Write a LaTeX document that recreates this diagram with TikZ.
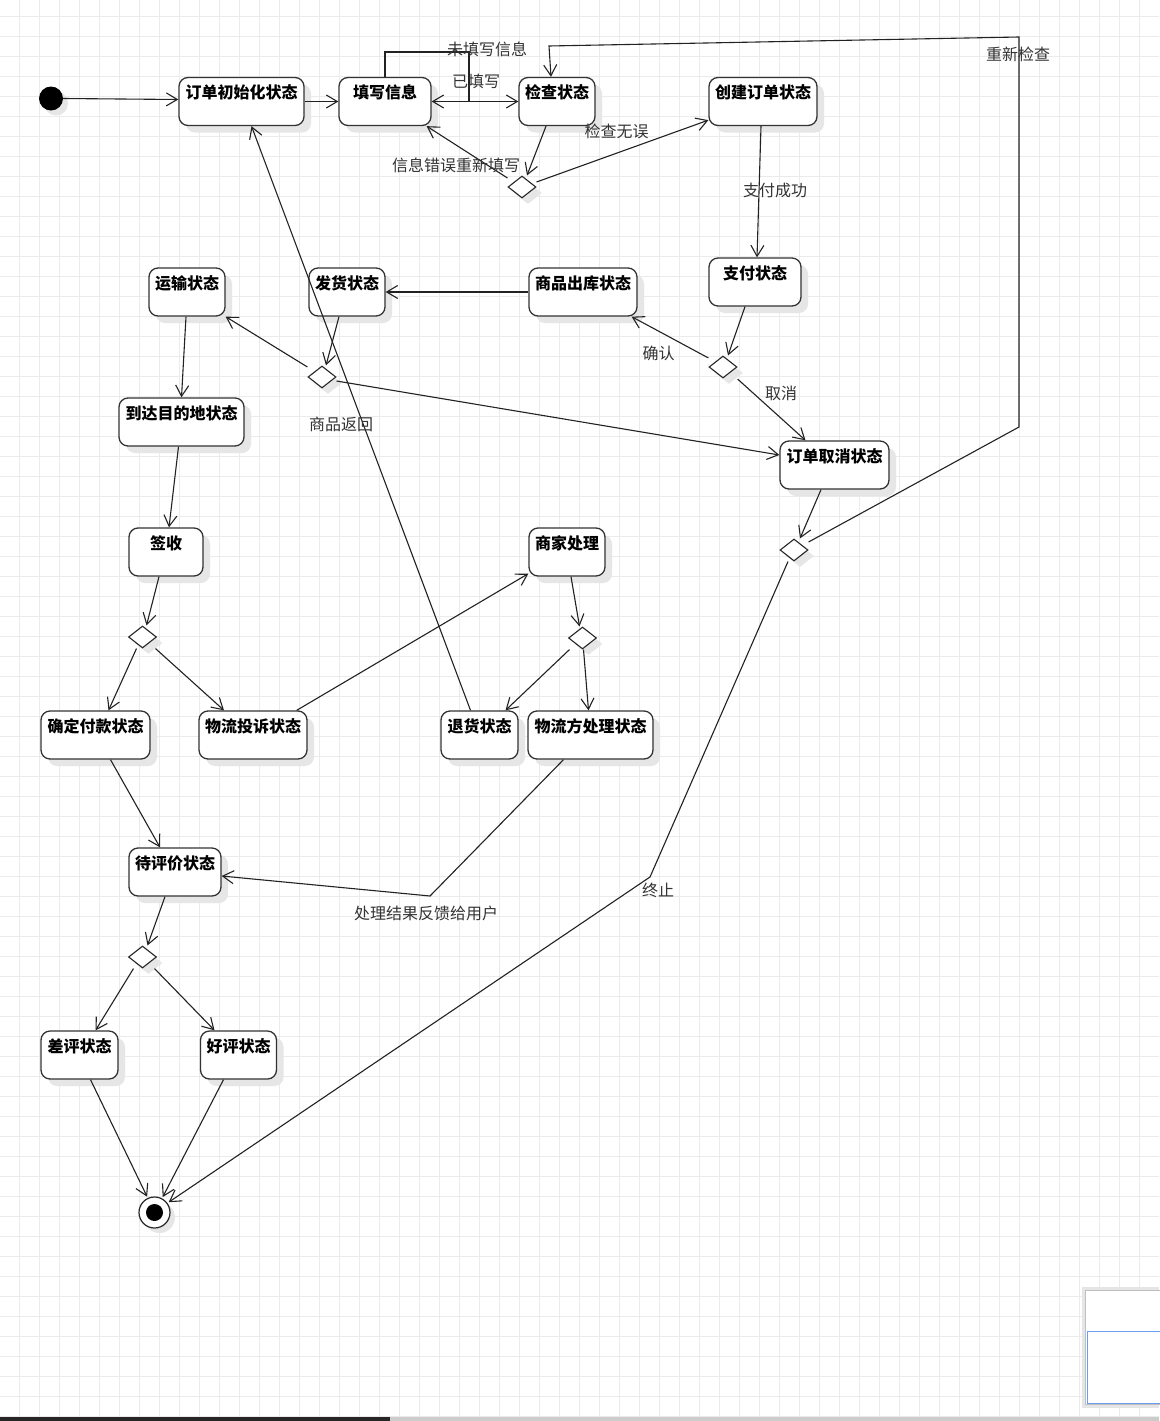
\documentclass[tikz,border=0pt]{standalone}
\usepackage{fontspec}
\setmainfont{Noto Sans CJK SC}
\usepackage{tikz}
\usetikzlibrary{arrows.meta,shapes.geometric,shadows}
\usepackage{xcolor}
\definecolor{gridgray}{HTML}{EBEBEB}
\definecolor{shadowgray}{HTML}{E6E6E6}
\definecolor{linegray}{HTML}{222222}
\definecolor{mapblue}{HTML}{6B9EF0}

\begin{document}
\begin{tikzpicture}[
    x=1pt, y=-1pt,
    statebox/.style={rectangle, draw=black!80, line width=1.3pt, fill=white, rounded corners=9pt,
        minimum height=48pt, inner xsep=0pt, inner ysep=4pt, text height=17pt, text depth=23pt,
        font=\fontsize{16}{18}\selectfont\bfseries,
        general shadow={fill=shadowgray, shadow xshift=7pt, shadow yshift=-7pt}},
    choice/.style={diamond, draw=black!85, line width=1.1pt, fill=white, minimum width=28pt,
        minimum height=22pt, inner sep=0pt,
        general shadow={fill=shadowgray, shadow xshift=6pt, shadow yshift=-6pt}},
    arrow/.style={-{Straight Barb[length=11pt,width=13pt]}, line width=1.1pt, draw=linegray},
    guard/.style={font=\fontsize{16}{18}\selectfont, text=black!80, inner sep=0pt},
    gridline/.style={draw=gridgray, line width=1pt}
]
\useasboundingbox (0,0) rectangle (1159,1421);
\fill[white] (0,0) rectangle (1159,1421);
\foreach \i in {0,...,56} \draw[gridline] (19.5+20*\i,0) -- (19.5+20*\i,1421);
\foreach \j in {0,...,70} \draw[gridline] (0,16.7+20*\j) -- (1159,16.7+20*\j);

% states
\node[circle, fill=black, minimum size=24pt, inner sep=0pt,
    general shadow={fill=shadowgray, shadow xshift=5pt, shadow yshift=-5pt}] (start) at (51,98.5) {};
\node[statebox, minimum width=125pt] (orderinit) at (241.5,101.5) {订单初始化状态};
\node[statebox, minimum width=92pt] (fill) at (385,101.5) {填写信息};
\node[statebox, minimum width=76pt] (check) at (557,101.5) {检查状态};
\node[statebox, minimum width=108pt] (create) at (763,101.5) {创建订单状态};
\node[statebox, minimum width=92pt] (pay) at (755,282) {支付状态};
\node[statebox, minimum width=76pt] (trans) at (187,292) {运输状态};
\node[statebox, minimum width=76pt] (ship) at (347,292) {发货状态};
\node[statebox, minimum width=108pt] (out) at (583,292) {商品出库状态};
\node[statebox, minimum width=125pt] (arrive) at (181.5,422) {到达目的地状态};
\node[statebox, minimum width=109pt] (cancel) at (834.5,465) {订单取消状态};
\node[statebox, minimum width=74pt] (sign) at (166,552) {签收};
\node[statebox, minimum width=76pt] (merchant) at (567,552) {商家处理};
\node[statebox, minimum width=109pt] (confirm) at (95.5,735) {确定付款状态};
\node[statebox, minimum width=108pt] (complain) at (253,735) {物流投诉状态};
\node[statebox, minimum width=77pt] (refund) at (479.5,735) {退货状态};
\node[statebox, minimum width=125pt] (logist) at (590.5,735) {物流方处理状态};
\node[statebox, minimum width=92pt] (eval) at (175,872) {待评价状态};
\node[statebox, minimum width=77pt] (bad) at (79.5,1055) {差评状态};
\node[statebox, minimum width=76pt] (good) at (238.5,1055) {好评状态};
\node[circle, draw=black!85, line width=1.2pt, fill=white, minimum size=31pt, inner sep=0pt, outer sep=2pt,
    general shadow={fill=shadowgray, shadow xshift=5pt, shadow yshift=-5pt},
    path picture={\fill[black] (path picture bounding box.center) circle (8.5pt);}] (final) at (154.5,1212.5) {};

% decisions
\node[choice] (d1) at (522,187) {};
\node[choice] (d2) at (322,377) {};
\node[choice] (d3) at (723,367) {};
\node[choice] (d4) at (794,550) {};
\node[choice] (d5) at (142.5,637) {};
\node[choice] (d6) at (582.5,638) {};
\node[choice] (d7) at (142.5,957) {};

% bend points
\coordinate (loop) at (469,52);
\coordinate (re1) at (1019,427);
\coordinate (re2) at (1019,37);
\coordinate (re3) at (549,46);
\coordinate (fb) at (430,896);
\coordinate (stop) at (650,877);

% transitions
\draw[arrow] (start.east) -- ([yshift=2pt]orderinit.west);
\draw[arrow] (orderinit.east) -- (fill.west);
\draw[arrow] (fill.east) -- (check.west);
\draw[arrow] (fill.north) |- (loop) |- (fill.east);
\draw[arrow] ([xshift=-11pt]check.south) -- ([xshift=5pt]d1.north);
\draw[arrow] ([yshift=9pt]d1.west) -- ([xshift=-5pt]fill.south east);
\draw[arrow] ([yshift=5pt]d1.east) -- ([yshift=6pt]create.south west);
\draw[arrow] ([xshift=-2pt]create.south) -- ([xshift=2pt]pay.north);
\draw[arrow] ([xshift=-10pt]pay.south) -- ([xshift=5pt]d3.north);
\draw[arrow] ([yshift=9pt]d3.west) -- ([xshift=-6pt]out.south east);
\draw[arrow] ([yshift=-12pt]d3.east) -- ([xshift=-29pt]cancel.north);
\draw[arrow] (out.west) -- (ship.east);
\draw[arrow] ([xshift=-8pt]ship.south) -- ([xshift=4pt]d2.north);
\draw[arrow] ([yshift=10pt]d2.west) -- (trans.south east);
\draw[arrow] ([yshift=-4pt]d2.east) -- ([yshift=10pt]cancel.west);
\draw[arrow] ([xshift=-1pt]trans.south) -- (arrive.north);
\draw[arrow] ([xshift=-3pt]arrive.south) -- ([xshift=3pt]sign.north);
\draw[arrow] ([xshift=-7pt]sign.south) -- ([xshift=4pt]d5.north);
\draw[arrow] ([xshift=-6pt]d5.south) -- ([xshift=13pt]confirm.north);
\draw[arrow] ([xshift=13pt]d5.south) -- ([xshift=-29pt]complain.north);
\draw[arrow] ([xshift=-11pt]complain.north east) -- ([yshift=3pt]merchant.south west);
\draw[arrow] ([xshift=4pt]merchant.south) -- ([xshift=-3pt]d6.north);
\draw[arrow] ([xshift=-13pt]d6.south) -- ([xshift=26pt]refund.north);
\draw[arrow] ([xshift=1pt]d6.south) -- ([xshift=-2pt]logist.north);
\draw[arrow] ([xshift=-9pt]refund.north) -- ([xshift=10pt]orderinit.south);
\draw[arrow] ([xshift=-27pt]logist.south) -- (fb) -- ([yshift=-4pt]eval.east);
\draw[arrow] ([xshift=15pt]confirm.south) -- ([xshift=-15pt]eval.north);
\draw[arrow] ([xshift=-10pt]eval.south) -- ([xshift=5pt]d7.north);
\draw[arrow] ([xshift=-9pt]d7.south) -- ([xshift=16pt]bad.north);
\draw[arrow] ([xshift=12pt]d7.south) -- ([xshift=-24pt]good.north);
\draw[arrow] ([xshift=11pt]bad.south) -- (final.115);
\draw[arrow] ([xshift=-15pt]good.south) -- (final.62);
\draw[arrow] ([xshift=-13.5pt]cancel.south) -- ([xshift=6pt]d4.north);
\draw[arrow] ([yshift=8pt]d4.east) -- (re1) -- (re2) -- (re3) -- ([xshift=-6pt]check.north);
\draw[arrow] ([xshift=-6pt]d4.south) -- (stop) -- (final.36);

% guards
\node[guard] (g-unfilled) at (487,49) {未填写信息};
\node[guard] (g-filled) at (476,81) {已填写};
\node[guard] (g-wrong) at (456,165) {信息错误重新填写};
\node[guard] (g-ok) at (616.5,131) {检查无误};
\node[guard] (g-paid) at (775,190) {支付成功};
\node[guard] (g-recheck) at (1018,54) {重新检查};
\node[guard] (g-confirm) at (658.5,353) {确认};
\node[guard] (g-cancel) at (781,393.5) {取消};
\node[guard] (g-return) at (341,424) {商品返回};
\node[guard] (g-feedback) at (426,913) {处理结果反馈给用户};
\node[guard] (g-stop) at (658,890) {终止};

% minimap and scrollbar
\fill[black!10] (1082,1287) rectangle (1159,1408);
\draw[black!25, fill=white] (1085,1290) rectangle (1160,1404);
\draw[mapblue, line width=1pt] (1087.5,1331) rectangle (1160,1403);
\fill[black!85] (0,1416.5) rectangle (390,1421);
\fill[black!20] (390,1416.5) rectangle (1159,1421);
\end{tikzpicture}
\end{document}
